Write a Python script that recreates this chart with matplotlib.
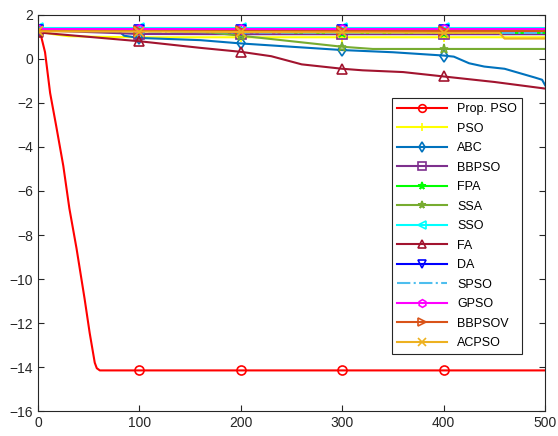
import matplotlib
matplotlib.use('Agg')
import matplotlib.pyplot as plt

plt.rcParams['font.family'] = ['Liberation Sans', 'DejaVu Sans']

# convergence curves (iteration, value)
prop_x = [0, 3, 7, 12, 18, 25, 31, 38, 46, 51, 56, 58, 61, 100, 200, 300, 400, 500]
prop_y = [1.25, 1.05, 0.3, -1.55, -3.05, -4.86, -6.8, -8.6, -10.9, -12.45, -13.8, -14.05, -14.15,
          -14.15, -14.15, -14.15, -14.15, -14.15]

pso_x = [0, 15, 30, 60, 100, 200, 300, 400, 500]
pso_y = [1.25, 1.12, 1.03, 1.0, 0.98, 0.98, 0.98, 0.98, 0.98]

abc_x = [0, 80, 85, 100, 160, 200, 250, 300, 350, 400, 410, 425, 440, 460, 475, 490, 497, 500]
abc_y = [1.3, 1.25, 1.05, 0.95, 0.85, 0.7, 0.55, 0.4, 0.3, 0.15, 0.1, -0.2, -0.35, -0.45, -0.65, -0.85, -0.95, -1.2]

bbpso_x = [0, 60, 100, 200, 300, 400, 500]
bbpso_y = [1.3, 1.2, 1.13, 1.12, 1.12, 1.12, 1.12]

fpa_x = [0, 100, 200, 250, 300, 400, 500]
fpa_y = [1.3, 1.3, 1.28, 1.2, 1.18, 1.18, 1.18]

ssa_x = [0, 100, 170, 200, 250, 300, 330, 400, 500]
ssa_y = [1.3, 1.3, 1.2, 1.05, 0.8, 0.55, 0.45, 0.45, 0.45]

sso_x = [0, 100, 200, 300, 400, 500]
sso_y = [1.4, 1.4, 1.4, 1.4, 1.4, 1.4]

fa_x = [0, 50, 100, 160, 200, 230, 260, 300, 320, 360, 400, 450, 500]
fa_y = [1.2, 1.0, 0.8, 0.5, 0.32, 0.12, -0.25, -0.45, -0.52, -0.6, -0.8, -1.05, -1.35]

da_x = [0, 100, 200, 300, 400, 500]
da_y = [1.32, 1.32, 1.32, 1.32, 1.32, 1.32]

spso_x = [0, 100, 200, 300, 400, 500]
spso_y = [1.3, 1.25, 1.2, 1.18, 1.18, 1.18]

gpso_x = [0, 100, 200, 300, 400, 500]
gpso_y = [1.34, 1.34, 1.34, 1.34, 1.34, 1.34]

bbpsov_x = [0, 100, 200, 300, 400, 500]
bbpsov_y = [1.28, 1.28, 1.28, 1.28, 1.28, 1.28]

acpso_x = [0, 100, 200, 300, 400, 455, 460, 500]
acpso_y = [1.25, 1.24, 1.22, 1.2, 1.18, 1.18, 0.92, 0.92]

series = [
    ('Prop. PSO', prop_x, prop_y, '#FF0000', 'o', '-'),
    ('PSO', pso_x, pso_y, '#FFFF00', '+', '-'),
    ('ABC', abc_x, abc_y, '#0072BD', 'd', '-'),
    ('BBPSO', bbpso_x, bbpso_y, '#7E2F8E', 's', '-'),
    ('FPA', fpa_x, fpa_y, '#00FF00', '*', '-'),
    ('SSA', ssa_x, ssa_y, '#77AC30', '*', '-'),
    ('SSO', sso_x, sso_y, '#00FFFF', '<', '-'),
    ('FA', fa_x, fa_y, '#A2142F', '^', '-'),
    ('DA', da_x, da_y, '#0000FF', 'v', '-'),
    ('SPSO', spso_x, spso_y, '#4DBEEE', None, '-.'),
    ('GPSO', gpso_x, gpso_y, '#FF00FF', 'h', '-'),
    ('BBPSOV', bbpsov_x, bbpsov_y, '#D95319', '>', '-'),
    ('ACPSO', acpso_x, acpso_y, '#EDB120', 'x', '-'),
]

fig = plt.figure(figsize=(5.58, 4.36), dpi=100)
ax = fig.add_axes([0.068, 0.057, 0.909, 0.909])

for name, xs, ys, color, marker, ls in series:
    marks = [i for i, v in enumerate(xs) if v in (0, 100, 200, 300, 400)]
    ax.plot(xs, ys, color=color, linestyle=ls, linewidth=1.5, marker=marker,
            markevery=marks, markersize=6.5, markerfacecolor='none',
            markeredgewidth=1.2, label=name)

ax.set_xlim(0, 500)
ax.set_ylim(-16, 2)
ax.set_xticks(range(0, 501, 100))
ax.set_yticks(range(-16, 3, 2))
ax.tick_params(direction='in', top=True, right=True, labelsize=10, length=4,
               color='#262626', labelcolor='#262626')
for s in ax.spines.values():
    s.set_color('#262626')
    s.set_linewidth(0.8)

leg = ax.legend(loc='upper left', bbox_to_anchor=(0.698, 0.79), fontsize=9,
                handlelength=4, labelspacing=0.6, borderpad=0.4, fancybox=False,
                framealpha=1, edgecolor='#262626', borderaxespad=0, markerscale=0.85)
leg.get_frame().set_linewidth(0.8)

fig.savefig('out.png', dpi=100)
plt.close(fig)
